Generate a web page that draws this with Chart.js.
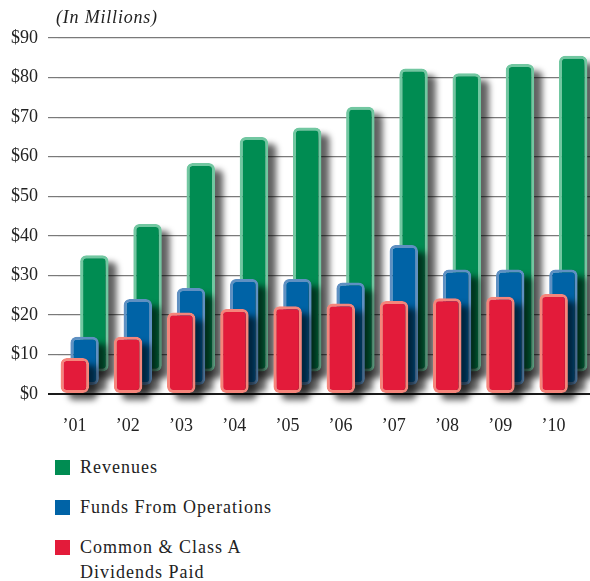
<!DOCTYPE html>
<html lang="en">
<head>
    <meta charset="UTF-8">
    <title>Revenues, FFO and Dividends</title>
    <script src="https://cdn.jsdelivr.net/npm/chart.js"></script>
    <style>
        body, html {
            margin: 0;
            padding: 0;
            background: #fff;
            font-family: "Liberation Serif", serif;
            color: #222;
        }
        #wrap {
            position: relative;
            width: 590px;
            height: 581px;
        }
        #chartBox {
            position: absolute;
            left: 0;
            top: 0;
            width: 590px;
            height: 440px;
        }
        #units {
            position: absolute;
            left: 56px;
            top: 5px;
            font-size: 18px;
            font-style: italic;
            letter-spacing: 0.8px;
            line-height: 24px;
        }
        .item {
            position: absolute;
            left: 80px;
            font-size: 18px;
            letter-spacing: 1px;
            line-height: 25px;
        }
        .swatch {
            position: absolute;
            left: -25px;
            top: 5px;
            width: 15px;
            height: 15px;
        }
    </style>
</head>
<body>
<div id="wrap">
    <div id="chartBox"><canvas id="chart" width="590" height="440"></canvas></div>
    <div id="units">(In Millions)</div>
    <div class="item" style="top:455px"><span class="swatch" style="background:#008c52"></span>Revenues</div>
    <div class="item" style="top:495px"><span class="swatch" style="background:#0063a6"></span>Funds From Operations</div>
    <div class="item" style="top:535px"><span class="swatch" style="background:#e31b3a"></span>Common &amp; Class A<br>Dividends Paid</div>
</div>

<script>
    // Fiscal years and amounts, in millions of dollars
    const years = ['’01', '’02', '’03', '’04', '’05', '’06', '’07', '’08', '’09', '’10'];
    const revenues = [35.1, 43.0, 58.4, 65.0, 67.4, 72.6, 82.3, 81.1, 83.4, 85.5];
    const fundsFromOps = [14.5, 24.0, 26.8, 29.1, 29.1, 28.2, 37.7, 31.5, 31.5, 31.5];
    const dividends = [9.1, 14.5, 20.6, 21.5, 22.2, 22.9, 23.5, 24.2, 24.6, 25.3];
    const yTicks = [0, 10, 20, 30, 40, 50, 60, 70, 80, 90];

    // Soft drop shadow behind every bar of a dataset, drawn before the bars themselves
    const barShadow = {
        id: 'barShadow',
        beforeDatasetDraw(chart, args) {
            const ctx = chart.ctx;
            ctx.save();
            ctx.filter = 'blur(3px)';
            ctx.fillStyle = 'rgba(0, 0, 0, 0.62)';
            args.meta.data.forEach(bar => {
                const p = bar.getProps(['x', 'y', 'base', 'width'], true);
                const top = Math.min(p.y, p.base);
                ctx.beginPath();
                ctx.roundRect(p.x - p.width / 2 + 8, top + 7, p.width, Math.abs(p.base - p.y), 5);
                ctx.fill();
            });
            ctx.restore();
        }
    };

    const barStyle = {
        borderWidth: 3,
        borderRadius: 6,
        borderSkipped: false,
        categoryPercentage: 0.55,
        barPercentage: 2.92
    };

    new Chart(document.getElementById('chart'), {
        type: 'bar',
        data: {
            labels: years,
            datasets: [{
                label: 'Common & Class A Dividends Paid',
                data: dividends,
                backgroundColor: '#e31b3a',
                borderColor: '#f5857b',
                base: 0,
                ...barStyle
            }, {
                label: 'Funds From Operations',
                data: fundsFromOps,
                backgroundColor: '#0063a6',
                borderColor: '#5f90c2',
                base: 2.3,
                ...barStyle
            }, {
                label: 'Revenues',
                data: revenues,
                backgroundColor: '#008c52',
                borderColor: '#72c7a1',
                base: 5.7,
                ...barStyle
            }]
        },
        options: {
            responsive: false,
            animation: false,
            events: [],
            layout: { padding: { top: 38, right: 0, bottom: 0, left: 0 } },
            plugins: {
                legend: { display: false },
                tooltip: { enabled: false }
            },
            scales: {
                x: {
                    grid: { display: false },
                    border: { display: false },
                    ticks: {
                        color: '#222',
                        font: { family: 'Liberation Serif', size: 18 },
                        labelOffset: -10,
                        padding: 13,
                        maxRotation: 0
                    },
                    afterFit: s => { s.height = 46; }
                },
                y: {
                    min: 0,
                    max: 90,
                    afterBuildTicks: s => { s.ticks = yTicks.map(v => ({ value: v })); },
                    afterFit: s => { s.width = 58; },
                    border: { display: false },
                    grid: {
                        drawTicks: true,
                        tickLength: 10,
                        color: c => c.tick.value === 0 ? '#1a1a1a' : '#7a7a7a',
                        lineWidth: c => c.tick.value === 0 ? 2 : 1.2
                    },
                    ticks: {
                        color: '#222',
                        padding: 10,
                        font: { family: 'Liberation Serif', size: 18 },
                        callback: v => '$' + v
                    }
                }
            }
        },
        plugins: [barShadow]
    });
</script>
</body>
</html>
